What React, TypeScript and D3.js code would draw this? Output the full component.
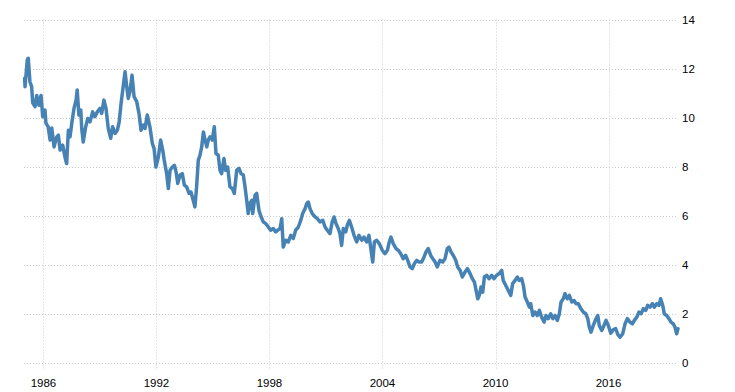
import React from "react";
import * as d3 from "d3";

const xTickYears = [1986, 1992, 1998, 2004, 2010, 2016];
const yTickValues = [0, 2, 4, 6, 8, 10, 12, 14];

const years = [
  1985.0, 1985.02, 1985.14, 1985.19, 1985.28, 1985.37, 1985.43, 1985.55, 1985.64, 1985.76, 1985.87, 1985.96,
  1986.08, 1986.13, 1986.25, 1986.35, 1986.44, 1986.56, 1986.7, 1986.79, 1986.88,
  1987.02, 1987.14, 1987.23, 1987.32, 1987.41, 1987.5, 1987.62, 1987.73, 1987.79, 1987.88, 1987.98,
  1988.03, 1988.11, 1988.24, 1988.35, 1988.47, 1988.61, 1988.73, 1988.86,
  1989.0, 1989.09, 1989.21, 1989.32, 1989.44, 1989.57, 1989.67, 1989.8, 1989.92,
  1990.02, 1990.12, 1990.24, 1990.33, 1990.42, 1990.5, 1990.59, 1990.7, 1990.81, 1990.95,
  1991.07, 1991.18, 1991.3, 1991.39, 1991.51, 1991.65, 1991.78, 1991.87, 1991.97,
  1992.1, 1992.22, 1992.33, 1992.41, 1992.54, 1992.63, 1992.72, 1992.84, 1992.95,
  1993.04, 1993.13, 1993.25, 1993.37, 1993.48, 1993.6, 1993.73, 1993.83, 1993.95,
  1994.04, 1994.13, 1994.22, 1994.31, 1994.4, 1994.49, 1994.58, 1994.67, 1994.75, 1994.84, 1994.96,
  1995.07, 1995.16, 1995.28, 1995.37, 1995.46, 1995.58, 1995.67, 1995.78, 1995.9,
  1996.03, 1996.13, 1996.26, 1996.38, 1996.49, 1996.61, 1996.7, 1996.79, 1996.87, 1996.96,
  1997.06, 1997.11, 1997.23, 1997.32, 1997.44, 1997.53, 1997.67, 1997.8, 1997.94,
  1998.06, 1998.2, 1998.33, 1998.44, 1998.56, 1998.65, 1998.73, 1998.86,
  1999.0, 1999.13, 1999.26, 1999.39, 1999.53, 1999.66, 1999.76, 1999.89, 1999.98,
  2000.06, 2000.15, 2000.27, 2000.42, 2000.54, 2000.68, 2000.83, 2000.95,
  2001.07, 2001.21, 2001.33, 2001.43, 2001.53, 2001.65, 2001.74, 2001.83, 2001.92,
  2002.05, 2002.13, 2002.24, 2002.36, 2002.49, 2002.63, 2002.75, 2002.9,
  2003.02, 2003.16, 2003.28, 2003.37, 2003.48, 2003.57, 2003.69, 2003.83, 2003.99,
  2004.13, 2004.26, 2004.36, 2004.45, 2004.57, 2004.72, 2004.84, 2004.97,
  2005.1, 2005.23, 2005.34, 2005.46, 2005.58, 2005.69, 2005.82, 2005.94,
  2006.08, 2006.2, 2006.31, 2006.43, 2006.56, 2006.67, 2006.79, 2006.91,
  2007.05, 2007.2, 2007.32, 2007.44, 2007.53, 2007.64, 2007.76, 2007.89, 2007.99,
  2008.12, 2008.24, 2008.38, 2008.51, 2008.65, 2008.77, 2008.88, 2008.97,
  2009.06, 2009.14, 2009.23, 2009.32, 2009.41, 2009.53, 2009.66, 2009.8, 2009.92,
  2010.06, 2010.2, 2010.33, 2010.41, 2010.54, 2010.68, 2010.81, 2010.91,
  2011.04, 2011.16, 2011.26, 2011.39, 2011.48, 2011.57, 2011.69, 2011.8, 2011.87, 2011.98,
  2012.1, 2012.22, 2012.33, 2012.45, 2012.58, 2012.68, 2012.8, 2012.93,
  2013.04, 2013.16, 2013.28, 2013.39, 2013.48, 2013.6, 2013.69, 2013.81, 2013.92,
  2014.05, 2014.17, 2014.28, 2014.4, 2014.53, 2014.66, 2014.79, 2014.9, 2014.98,
  2015.07, 2015.19, 2015.34, 2015.43, 2015.51, 2015.64, 2015.76, 2015.87, 2015.99,
  2016.12, 2016.26, 2016.38, 2016.5, 2016.61, 2016.75, 2016.88,
  2017.0, 2017.14, 2017.27, 2017.37, 2017.5, 2017.62, 2017.73, 2017.85, 2017.98,
  2018.08, 2018.2, 2018.33, 2018.43, 2018.56, 2018.68, 2018.77, 2018.88, 2018.96,
  2019.09, 2019.21, 2019.32, 2019.44, 2019.53, 2019.62, 2019.69,
];

const yields = [
  11.6, 11.26, 12.35, 12.42, 11.46, 11.26, 10.6, 10.44, 10.9, 10.5, 10.9, 10.03,
  10.3, 9.77, 9.62, 9.08, 9.57, 8.8, 9.2, 9.28, 8.67,
  8.87, 8.39, 8.12, 9.48, 9.21, 9.76, 10.37, 10.71, 11.12, 10.1, 10.3,
  9.55, 9.0, 9.62, 9.96, 9.82, 10.23, 10.03, 10.23,
  10.37, 10.17, 10.71, 10.37, 9.55, 9.15, 9.62, 9.35, 9.48,
  9.82, 10.58, 11.32, 11.87, 11.26, 10.78, 11.05, 11.73, 10.85, 10.65,
  10.17, 9.48, 9.69, 9.55, 10.1, 9.62, 8.94, 8.74, 7.98,
  8.39, 9.08, 8.67, 8.26, 7.71, 7.1, 7.85, 7.98, 8.05,
  7.78, 7.31, 7.65, 7.71, 7.24, 7.17, 6.9, 6.96, 6.62,
  6.35, 7.17, 8.26, 8.46, 8.8, 9.41, 9.08, 8.8, 9.08, 9.21, 9.08,
  9.62, 8.53, 8.46, 7.85, 7.71, 8.33, 7.85, 7.98, 7.17,
  7.1, 6.9, 7.85, 7.92, 7.71, 7.65, 7.17, 6.62, 6.08, 6.49,
  6.62, 6.08, 6.83, 6.9, 6.21, 6.0, 5.74, 5.67, 5.53,
  5.4, 5.47, 5.33, 5.4, 5.47, 5.87, 4.71, 4.99,
  4.92, 5.19, 5.06, 5.4, 5.53, 5.8, 6.08, 6.28, 6.49,
  6.55, 6.28, 6.08, 5.94, 5.87, 5.74, 5.8, 5.53,
  5.4, 5.26, 5.74, 5.94, 5.67, 5.47, 5.26, 4.78, 5.47,
  5.33, 5.6, 5.8, 5.53, 5.19, 4.92, 5.19, 4.99,
  5.12, 4.92, 5.19, 4.71, 4.1, 4.92, 4.99, 4.85, 4.58,
  4.44, 4.58, 4.92, 5.12, 4.85, 4.65, 4.58, 4.44,
  4.24, 4.37, 4.17, 3.9, 3.83, 4.03, 4.17, 4.1,
  4.1, 4.3, 4.51, 4.65, 4.37, 4.24, 4.1, 3.9,
  4.17, 4.1, 4.24, 4.65, 4.71, 4.51, 4.37, 4.17, 3.9,
  3.76, 3.49, 3.69, 3.83, 3.63, 3.42, 3.28, 2.94,
  2.6, 2.74, 3.08, 2.87, 3.49, 3.56, 3.42, 3.56, 3.42,
  3.56, 3.63, 3.76, 3.35, 3.15, 2.94, 2.74, 3.22,
  3.35, 3.49, 3.35, 3.42, 3.15, 2.67, 2.47, 2.26, 2.4, 1.92,
  2.06, 1.92, 2.13, 1.85, 1.65, 1.92, 1.79, 1.99,
  1.79, 1.92, 1.72, 1.99, 2.47, 2.6, 2.81, 2.6, 2.74,
  2.47, 2.53, 2.4, 2.4, 2.2, 2.06, 1.99, 1.79, 1.44,
  1.24, 1.51, 1.79, 1.92, 1.51, 1.31, 1.51, 1.72, 1.51,
  1.2, 1.34, 1.38, 1.14, 1.03, 1.17, 1.58,
  1.79, 1.65, 1.58, 1.72, 1.85, 2.06, 1.99, 2.2, 2.13,
  2.33, 2.26, 2.4, 2.26, 2.4, 2.33, 2.6, 2.33, 1.99,
  1.92, 1.79, 1.65, 1.58, 1.44, 1.17, 1.38,
];

const W = 735;
const H = 392;
const plotLeft = 24;
const plotRight = 678;
const plotTop = 19.5;
const plotBottom = 362.5;

export default function App() {
  const x = d3.scaleLinear().domain([1984.965, 2019.69]).range([plotLeft, plotRight]);
  const y = d3.scaleLinear().domain([0, 14]).range([plotBottom, plotTop]);
  const pts: [number, number][] = years.map((t, i) => [t, yields[i]]);
  const line = d3
    .line<[number, number]>()
    .x((d) => x(d[0]))
    .y((d) => y(d[1]));
  const font = "'Liberation Sans', Arial, sans-serif";
  return (
    <svg
      width={W}
      height={H}
      style={{ position: "absolute", left: 0, top: 0, background: "#fff" }}
    >
      <g>
        {yTickValues.map((v) => (
          <line
            key={"h" + v}
            x1={plotLeft}
            x2={plotRight}
            y1={Math.round(y(v)) + 0.5}
            y2={Math.round(y(v)) + 0.5}
            stroke="#cccccc"
            strokeWidth={1}
            strokeDasharray="1,2"
          />
        ))}
        {xTickYears.map((t) => (
          <line
            key={"v" + t}
            x1={Math.round(x(t)) + 0.5}
            x2={Math.round(x(t)) + 0.5}
            y1={plotTop}
            y2={plotBottom + 6}
            stroke="#cccccc"
            strokeWidth={1}
            strokeDasharray="1,2"
          />
        ))}
      </g>
      <path
        d={line(pts) || ""}
        fill="none"
        stroke="#4682b4"
        strokeWidth={3.5}
        strokeLinejoin="round"
        strokeLinecap="round"
      />
      <g fontFamily={font} fontSize={11.5} fill="#000">
        {yTickValues.map((v) => (
          <text key={"yl" + v} x={682} y={y(v) + 4}>
            {v}
          </text>
        ))}
        {xTickYears.map((t) => (
          <text key={"xl" + t} x={x(t)} y={387} textAnchor="middle">
            {t}
          </text>
        ))}
      </g>
    </svg>
  );
}
